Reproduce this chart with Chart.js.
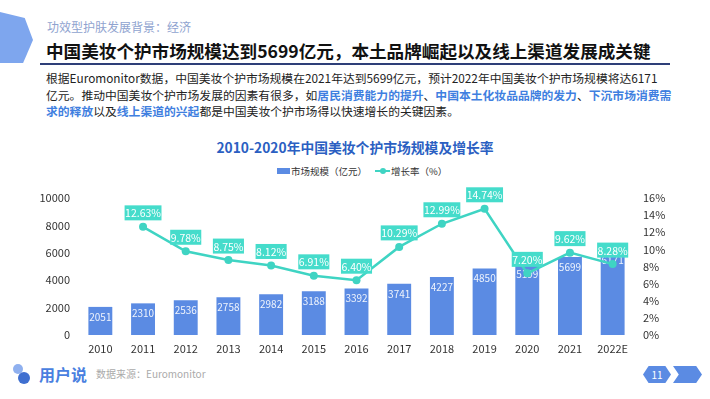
<!DOCTYPE html>
<html>
<head>
<meta charset="utf-8">
<script src="https://cdn.jsdelivr.net/npm/chart.js@4.4.1/dist/chart.umd.min.js"></script>
<style>
  body { margin: 0; width: 710px; height: 399px; background: #fff; overflow: hidden;
         font-family: "Noto Sans CJK SC", "Noto Sans", sans-serif; position: relative; }
  .abs { position: absolute; white-space: nowrap; }
  .hex { left: 0; top: 12px; width: 33px; height: 51px; background: #7ea6ee;
         clip-path: polygon(0 0, 75% 12%, 100% 55%, 70% 100%, 0 100%); }
  .sub { left: 47px; top: 18px; font-size: 12px; color: #8fa3cf; }
  .title { left: 46px; top: 38px; font-size: 17.6px; font-weight: bold; color: #111; }
  .rule { left: 40px; top: 63px; width: 630px; height: 2px; background: #2e3f78; }
  .para { left: 46px; top: 70px; font-size: 11.8px; line-height: 16.5px; color: #222; }
  .para b { color: #3f7fe0; }
  .ctitle { left: 0; width: 710px; top: 137px; text-align: center; font-size: 13.8px;
            font-weight: bold; color: #2b5fc2; }
  .legend { top: 163px; left: 277px; font-size: 9.5px; color: #333; }
  .legend span { display: inline-block; vertical-align: middle; }
  .sw-bar { width: 13px; height: 6px; background: #5b8be3; margin-right: 1px; }
  .sw-line { width: 15px; height: 2px; background: #3fd4c3; position: relative; margin: 0 1px 0 8px; }
  .sw-line::after { content: ""; position: absolute; left: 5px; top: -2px; width: 6px; height: 6px;
                    border-radius: 50%; background: #3fd4c3; }
  .logo { left: 39px; top: 362px; font-size: 16px; color: #4a7fe0; font-weight: bold; }
  .icon1 { left: 13px; top: 364px; width: 10px; height: 10px; border-radius: 50%; background: #8fb0ef; }
  .icon2 { left: 18px; top: 372px; width: 12px; height: 12px; border-radius: 50%; background: #3f6fd0; }
  .src { left: 96px; top: 366px; font-size: 10px; color: #aaa; }
  .pg1 { left: 643px; top: 366px; width: 28px; height: 17px; background: #5b8be3; color: #fff;
         font-size: 10px; text-align: center; line-height: 17px;
         clip-path: polygon(20% 0, 80% 0, 100% 50%, 80% 100%, 20% 100%, 0 50%); }
  .pg2 { left: 673px; top: 366px; width: 29px; height: 17px; background: #5b8be3;
         clip-path: polygon(0 0, 80% 0, 100% 50%, 80% 100%, 0 100%, 20% 50%); }
  #wrap { position: absolute; left: 0; top: 180px; width: 710px; height: 180px; }
</style>
</head>
<body>
<div class="abs hex"></div>
<div class="abs sub">功效型护肤发展背景：经济</div>
<div class="abs title">中国美妆个护市场规模达到5699亿元，本土品牌崛起以及线上渠道发展成关键</div>
<div class="abs rule"></div>
<div class="abs para">根据Euromonitor数据，中国美妆个护市场规模在2021年达到5699亿元，预计2022年中国美妆个护市场规模将达6171<br>亿元。推动中国美妆个护市场发展的因素有很多，如<b>居民消费能力的提升</b>、<b>中国本土化妆品品牌的发力</b>、<b>下沉市场消费需</b><br><b>求的释放</b>以及<b>线上渠道的兴起</b>都是中国美妆个护市场得以快速增长的关键因素。</div>
<div class="abs ctitle">2010-2020年中国美妆个护市场规模及增长率</div>
<div class="abs legend"><span class="sw-bar"></span><span>市场规模（亿元）</span><span class="sw-line"></span><span>增长率（%）</span></div>
<div id="wrap"><canvas id="chart"></canvas></div>
<div class="abs icon1"></div>
<div class="abs icon2"></div>
<div class="abs logo">用户说</div>
<div class="abs src">数据来源：Euromonitor</div>
<div class="abs pg1">11</div>
<div class="abs pg2"></div>

<script>
const years = ["2010", "2011", "2012", "2013", "2014", "2015", "2016", "2017", "2018", "2019", "2020", "2021", "2022E"];
const marketSize = [2051, 2310, 2536, 2758, 2982, 3188, 3392, 3741, 4227, 4850, 5199, 5699, 6171];
const growthRate = [null, 12.63, 9.78, 8.75, 8.12, 6.91, 6.40, 10.29, 12.99, 14.74, 7.20, 9.62, 8.28];
const sizeTicks = [0, 2000, 4000, 6000, 8000, 10000];
const rateTicks = [0, 2, 4, 6, 8, 10, 12, 14, 16];

const BAR = "#5b8be3";
const LINE = "#3fd4c3";

// value labels: bar numbers inside the bar, rate numbers in a teal box
const labelPlugin = {
    id: "valueLabels",
    afterDatasetDraw(chart, args) {
        const ctx = chart.ctx;
        const meta = args.meta;
        const ds = chart.data.datasets[args.index];
        ctx.save();
        ctx.textAlign = "center";
        ctx.textBaseline = "middle";
        if (meta.type === "bar") {
            ctx.font = "10px 'Noto Sans CJK SC'";
            ctx.fillStyle = "rgba(255,255,255,0.9)";
            meta.data.forEach((el, i) => {
                ctx.fillText(ds.data[i], el.x, el.y + 10);
            });
        } else {
            ctx.font = "10.5px 'Noto Sans CJK SC'";
            meta.data.forEach((el, i) => {
                const v = ds.data[i];
                if (v === null) return;
                const txt = v.toFixed(2) + "%";
                const w = ctx.measureText(txt).width + 1;
                const h = 15;
                const cy = el.y - 14;
                ctx.fillStyle = "#45dccb";
                ctx.fillRect(el.x - w / 2, cy - h / 2, w, h);
                ctx.fillStyle = "#fff";
                ctx.fillText(txt, el.x, cy + 0.5);
            });
        }
        ctx.restore();
    }
};

new Chart(document.getElementById("chart"), {
    data: {
        labels: years,
        datasets: [
            {
                type: "line",
                label: "增长率（%）",
                data: growthRate,
                yAxisID: "y1",
                borderColor: LINE,
                backgroundColor: LINE,
                borderWidth: 2.5,
                pointRadius: 4,
                pointBackgroundColor: LINE,
                pointBorderWidth: 0,
                tension: 0,
                order: 0
            },
            {
                type: "bar",
                label: "市场规模（亿元）",
                data: marketSize,
                yAxisID: "y",
                backgroundColor: BAR,
                categoryPercentage: 0.56,
                barPercentage: 1,
                order: 1
            }
        ]
    },
    options: {
        responsive: true,
        maintainAspectRatio: false,
        animation: false,
        layout: { padding: { top: 18, left: 0, right: 0, bottom: 0 } },
        plugins: {
            legend: { display: false },
            tooltip: { enabled: false }
        },
        scales: {
            x: {
                grid: { display: false, drawTicks: false },
                border: { display: false },
                ticks: { color: "#333", font: { size: 11, family: "Noto Sans CJK SC" }, padding: 7 },
                afterFit(scale) { scale.height = 25; }
            },
            y: {
                position: "left",
                min: 0,
                max: 10000,
                afterBuildTicks(scale) { scale.ticks = sizeTicks.map(v => ({ value: v })); },
                grid: { display: false, drawTicks: false },
                border: { display: false },
                ticks: {
                    color: "#333",
                    font: { size: 11, family: "Noto Sans CJK SC" },
                    padding: 9,
                    callback: (v) => String(v)
                },
                afterFit(scale) { scale.width = 79; }
            },
            y1: {
                position: "right",
                min: 0,
                max: 16,
                afterBuildTicks(scale) { scale.ticks = rateTicks.map(v => ({ value: v })); },
                grid: { display: false, drawTicks: false },
                border: { display: false },
                ticks: {
                    color: "#333",
                    font: { size: 11, family: "Noto Sans CJK SC" },
                    padding: 9,
                    callback: (v) => v + "%"
                },
                afterFit(scale) { scale.width = 76; }
            }
        }
    },
    plugins: [labelPlugin]
});
</script>
</body>
</html>
